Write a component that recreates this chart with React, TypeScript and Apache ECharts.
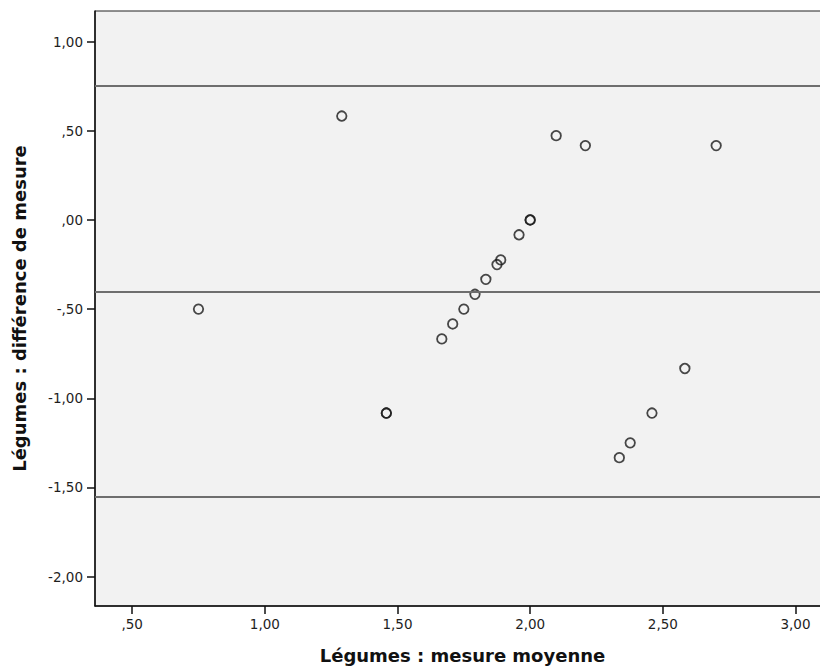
import React, { useEffect, useRef } from "react";
import * as echarts from "echarts";

const meanValues = [0.75, 1.29, 1.458, 1.458, 1.667, 1.708, 1.75, 1.792, 1.833, 1.875, 1.889, 1.958, 2.0, 2.0, 2.098, 2.208, 2.336, 2.377, 2.459, 2.583, 2.701];
const diffValues = [-0.5, 0.583, -1.083, -1.083, -0.667, -0.583, -0.5, -0.417, -0.333, -0.25, -0.224, -0.083, 0, 0, 0.473, 0.417, -1.333, -1.25, -1.083, -0.833, 0.417];
const referenceLines = [0.748, -0.397, -1.546];
const xTicks = [0.5, 1.0, 1.5, 2.0, 2.5, 3.0];
const yTicks = [-2.0, -1.5, -1.0, -0.5, 0, 0.5, 1.0];

const fmt = (v: number) => {
  const s = Math.abs(v).toFixed(2).replace(".", ",");
  const t = s.startsWith("0") ? s.slice(1) : s;
  return (v < 0 ? "-" : "") + t;
};

export default function App() {
  const ref = useRef<HTMLDivElement>(null);
  useEffect(() => {
    if (!ref.current) return;
    const chart = echarts.init(ref.current, null, { renderer: "svg" });
    const labelStyle = { color: "#1e1e1e", fontFamily: "DejaVu Sans", fontSize: 13.5 };
    const nameStyle = { color: "#111", fontFamily: "DejaVu Sans", fontSize: 18, fontWeight: "bold" as const };
    chart.setOption({
      animation: false,
      backgroundColor: "#fff",
      grid: {
        left: 95,
        top: 11,
        width: 735,
        height: 595,
        show: true,
        backgroundColor: "#f2f2f2",
        borderColor: "#222",
        borderWidth: 1,
        outerBoundsMode: "none",
        containLabel: false,
      },
      xAxis: {
        type: "value",
        min: 0.36,
        max: 3.13,
        name: "Légumes : mesure moyenne",
        nameLocation: "middle",
        nameGap: 40,
        nameTextStyle: nameStyle,
        axisLine: { show: true, onZero: false, lineStyle: { color: "#111", width: 1.5 } },
        axisTick: { show: true, length: 8, customValues: xTicks, lineStyle: { color: "#111", width: 1.5 } },
        axisLabel: { ...labelStyle, margin: 11, customValues: xTicks, formatter: (v: number) => fmt(v) },
        splitLine: { show: false },
      },
      yAxis: {
        type: "value",
        min: -2.165,
        max: 1.172,
        name: "Légumes : différence de mesure",
        nameLocation: "middle",
        nameGap: 67,
        nameTextStyle: nameStyle,
        axisLine: { show: true, onZero: false, lineStyle: { color: "#111", width: 1.5 } },
        axisTick: { show: true, length: 8, customValues: yTicks, lineStyle: { color: "#111", width: 1.5 } },
        axisLabel: { ...labelStyle, margin: 12, customValues: yTicks, formatter: (v: number) => fmt(v) },
        splitLine: { show: false },
      },
      series: [
        {
          type: "scatter",
          data: meanValues.map((x, i) => [x, diffValues[i]]),
          symbol: "circle",
          symbolSize: 9.5,
          itemStyle: { color: "rgba(0,0,0,0)", borderColor: "#1a1a1a", borderWidth: 1.8 },
          markLine: {
            silent: true,
            symbol: ["none", "none"],
            label: { show: false },
            lineStyle: { color: "#6e6e6e", width: 1.8, type: "solid" },
            data: referenceLines.map((v) => ({ yAxis: v })),
          },
          z: 3,
        },
      ],
    });
    return () => chart.dispose();
  }, []);
  return <div ref={ref} style={{ position: "fixed", left: 0, top: 0, width: 820, height: 669 }} />;
}
